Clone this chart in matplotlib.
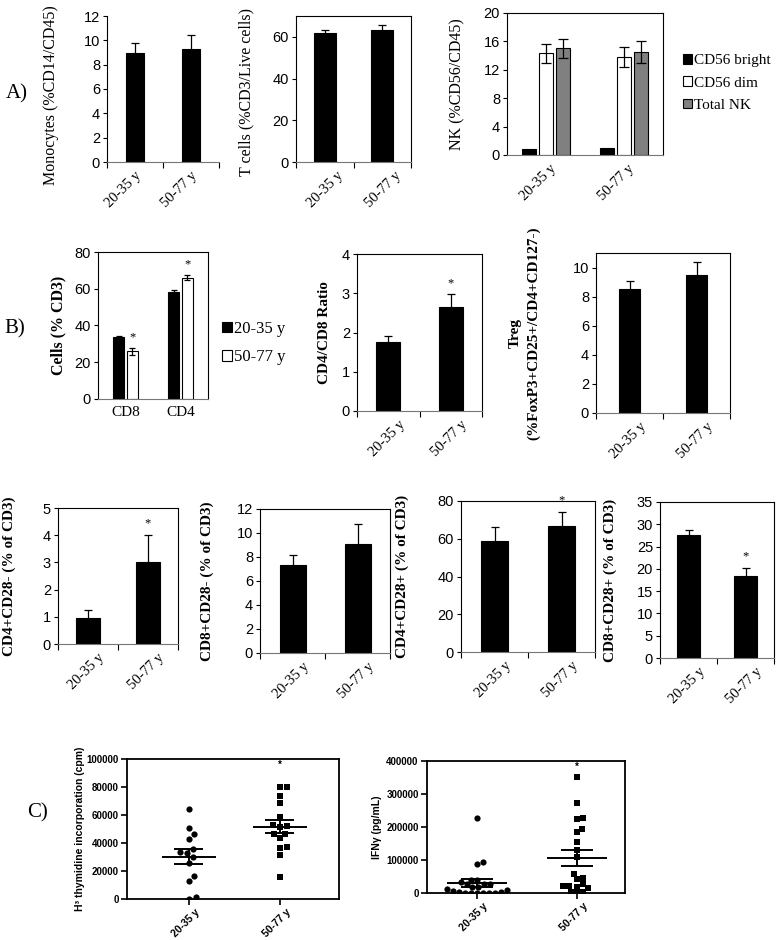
import matplotlib
matplotlib.use('Agg')
import matplotlib.pyplot as plt
import numpy as np
from matplotlib.transforms import ScaledTranslation, blended_transform_factory

plt.rcParams['font.family'] = ['Liberation Sans', 'DejaVu Sans']
SERIF = ['Liberation Serif', 'DejaVu Serif']

# ---------------- data ----------------
groups = ['20-35 y', '50-77 y']

mono_mean = [9.0, 9.3]
mono_err = [0.8, 1.1]
tcell_mean = [62.0, 63.5]
tcell_err = [1.4, 2.0]

nk_series = ['CD56 bright', 'CD56 dim', 'Total NK']
nk_bright = [0.8, 1.0]
nk_dim = [14.3, 13.8]
nk_dim_err = [1.3, 1.4]
nk_total = [15.0, 14.5]
nk_total_err = [1.3, 1.6]

b_subsets = ['CD8', 'CD4']
cells_young = [33.5, 58.0]
cells_young_err = [1.0, 1.5]
cells_old = [26.0, 66.0]
cells_old_err = [1.8, 1.5]
cells_old_sig = [True, True]

ratio_mean = [1.77, 2.65]
ratio_err = [0.13, 0.32]
ratio_sig = [False, True]

treg_mean = [8.5, 9.5]
treg_err = [0.6, 0.9]

cd4_28neg = [0.97, 3.0]
cd4_28neg_err = [0.28, 1.0]
cd4_28neg_sig = [False, True]
cd8_28neg = [7.3, 9.1]
cd8_28neg_err = [0.9, 1.65]
cd4_28pos = [59.0, 66.5]
cd4_28pos_err = [7.0, 7.5]
cd4_28pos_sig = [False, True]
cd8_28pos = [27.5, 18.4]
cd8_28pos_err = [1.3, 1.8]
cd8_28pos_sig = [False, True]

prolif_young = [64000, 50700, 46600, 43000, 35900, 33600, 33100, 29800,
                25500, 16400, 13100, 200, 1200]
prolif_old = [80200, 80200, 73600, 68300, 58300, 52100, 51200, 52600,
              46400, 46400, 43300, 36400, 36900, 31400, 15900]
ifng_young = [226000, 95000, 89000, 40000, 38000, 33000, 28000, 26000,
              26000, 18000, 18000, 13000, 8000, 6000, 3000, 2000, 1500,
              1000, 500, 0, 0, 0]
ifng_old = [351500, 273700, 223200, 228300, 195000, 184800, 154500,
            131300, 109100, 58600, 43400, 45500, 20200, 18200, 26300,
            15200, 20200, 3000, 0, 3000]

# ---------------- figure ----------------
W, H = 778, 940
fig = plt.figure(figsize=(W / 100, H / 100), dpi=100)
fig.patch.set_facecolor('white')


def box(l, t, r, b):
    return fig.add_axes([l / W, 1 - b / H, (r - l) / W, (b - t) / H])


def shift_xlabels(ax, dx, dy):
    off = ScaledTranslation(dx / 100, dy / 100, fig.dpi_scale_trans)
    for lab in ax.get_xticklabels():
        lab.set_transform(lab.get_transform() + off)


def excel_axes(ax, ymax, yticks, l, r, ylabel, label_x, bold=False,
               labelsize=11, rotate=True, cats=groups, full=True, label_y=0.5):
    ax.set_ylim(0, ymax)
    ax.set_yticks(yticks)
    ax.set_yticklabels([('%g' % v) for v in yticks])
    ax.set_xlim(-0.5, 1.5)
    ax.tick_params(axis='y', direction='out', length=3, width=0.8,
                   labelsize=10.5, pad=2)
    ax.set_xticks([0, 1])
    if rotate:
        ax.set_xticklabels(cats, rotation=45, ha='right', va='top',
                           rotation_mode='anchor', fontfamily=SERIF,
                           fontsize=10.5)
    else:
        ax.set_xticklabels(cats, fontfamily=SERIF, fontsize=11)
    ax.tick_params(axis='x', which='major', length=0, pad=5)
    ax.set_xticks([-0.5, 0.5, 1.5], minor=True)
    ax.tick_params(axis='x', which='minor', direction='out', length=4,
                   width=0.8)
    for s in ax.spines.values():
        s.set_linewidth(0.8)
        s.set_color('black')
    ax.spines['bottom'].set_color('#777777')
    if not full:
        ax.spines['top'].set_visible(False)
        ax.spines['right'].set_visible(False)
    ax.set_ylabel(ylabel, fontfamily=SERIF, fontsize=labelsize,
                  fontweight='bold' if bold else 'normal')
    ax.yaxis.label.set_va('center')
    ax.yaxis.set_label_coords((label_x - l) / (r - l), label_y)


def bars_with_err(ax, means, errs, width, sig=None, color='black'):
    x = np.arange(len(means))
    ax.bar(x, means, width=width, color=color, edgecolor='black',
           linewidth=0.8, zorder=2)
    ax.errorbar(x, means, yerr=errs, fmt='none', ecolor='black',
                elinewidth=0.9, capsize=3.2, capthick=0.9, zorder=3)
    if sig is not None:
        for xi, m, e, s in zip(x, means, errs, sig):
            if s:
                ax.annotate('*', xy=(xi, m + e), xytext=(0, 4),
                            textcoords='offset points', ha='center',
                            va='bottom', fontsize=9, fontfamily=SERIF)


# ---------------- Row A ----------------
l, t, r, b = 107, 16, 219, 162
ax = box(l, t, r, b)
bars_with_err(ax, mono_mean, mono_err, 0.31)
excel_axes(ax, 12, range(0, 13, 2), l, r, 'Monocytes (%CD14/CD45)', 51,
           labelsize=11.5, full=False, label_y=0.46)

l, t, r, b = 296, 16, 411, 162
ax = box(l, t, r, b)
bars_with_err(ax, tcell_mean, tcell_err, 0.38)
excel_axes(ax, 70, range(0, 61, 20), l, r, 'T cells (%CD3/Live cells)', 246,
           labelsize=11.5, label_y=0.48)
shift_xlabels(ax, 12, 0)

l, t, r, b = 507, 13, 663, 155
ax = box(l, t, r, b)
xg = np.arange(len(groups))
wk = 0.18
h1 = ax.bar(xg - 0.22, nk_bright, wk, color='black', edgecolor='black',
            linewidth=0.8, zorder=2)
h2 = ax.bar(xg, nk_dim, wk, color='white', edgecolor='black',
            linewidth=0.8, zorder=2)
h3 = ax.bar(xg + 0.22, nk_total, wk, color='#808080', edgecolor='black',
            linewidth=0.8, zorder=2)
ax.errorbar(xg, nk_dim, yerr=nk_dim_err, fmt='none', ecolor='black',
            elinewidth=0.9, capsize=3.5, capthick=0.9, zorder=3)
ax.errorbar(xg + 0.22, nk_total, yerr=nk_total_err, fmt='none',
            ecolor='black', elinewidth=0.9, capsize=3.5, capthick=0.9,
            zorder=3)
excel_axes(ax, 20, range(0, 21, 4), l, r, 'NK (%CD56/CD45)', 457,
           labelsize=11.5)
ax.set_xticks([], minor=True)
ax.tick_params(axis='x', which='major', length=0)
shift_xlabels(ax, 4, 0)
ax.legend([h1, h2, h3], nk_series, loc='center left',
          bbox_to_anchor=(683 / W, 1 - 83 / H), bbox_transform=fig.transFigure,
          frameon=False, prop={'family': SERIF, 'size': 11},
          handlelength=0.6, handleheight=0.6, handletextpad=0.15,
          labelspacing=0.6, borderpad=0, borderaxespad=0)

fig.text(17 / W, 1 - 94 / H, 'A)', fontfamily=SERIF, fontsize=15,
         ha='center', va='center')

# ---------------- Row B ----------------
l, t, r, b = 98, 252, 208, 399
ax = box(l, t, r, b)
xs = np.arange(len(b_subsets))
bw = 0.21
hy = ax.bar(xs - 0.125, cells_young, bw, color='black', edgecolor='black',
            linewidth=0.8, zorder=2)
ho = ax.bar(xs + 0.125, cells_old, bw, color='white', edgecolor='black',
            linewidth=0.8, zorder=2)
ax.errorbar(xs - 0.125, cells_young, yerr=cells_young_err, fmt='none',
            ecolor='black', elinewidth=0.9, capsize=2.5, capthick=0.9,
            zorder=3)
ax.errorbar(xs + 0.125, cells_old, yerr=cells_old_err, fmt='none',
            ecolor='black', elinewidth=0.9, capsize=2.5, capthick=0.9,
            zorder=3)
for xi, m, e, s in zip(xs + 0.125, cells_old, cells_old_err, cells_old_sig):
    if s:
        ax.annotate('*', xy=(xi, m + e), xytext=(0, 3),
                    textcoords='offset points', ha='center', va='bottom',
                    fontsize=9, fontfamily=SERIF)
excel_axes(ax, 80, range(0, 81, 20), l, r, 'Cells (% CD3)', 58, bold=True,
           labelsize=11.5, rotate=False, cats=b_subsets)
ax.set_xticks([], minor=True)
ax.legend([hy, ho], groups, loc='center left',
          bbox_to_anchor=(222 / W, 1 - 343 / H), bbox_transform=fig.transFigure,
          frameon=False, prop={'family': SERIF, 'size': 12},
          handlelength=0.6, handleheight=0.6, handletextpad=0.15,
          labelspacing=0.75, borderpad=0, borderaxespad=0)
fig.text(15 / W, 1 - 329 / H, 'B)', fontfamily=SERIF, fontsize=15,
         ha='center', va='center')

l, t, r, b = 357, 254, 482, 411
ax = box(l, t, r, b)
bars_with_err(ax, ratio_mean, ratio_err, 0.38, sig=ratio_sig)
excel_axes(ax, 4, range(0, 5), l, r, 'CD4/CD8 Ratio', 325, bold=True,
           labelsize=11)
shift_xlabels(ax, 10, 0)

l, t, r, b = 596, 253, 730, 413
ax = box(l, t, r, b)
bars_with_err(ax, treg_mean, treg_err, 0.31)
excel_axes(ax, 11, range(0, 11, 2), l, r,
           'Treg\n(%FoxP3+CD25+/CD4+CD127-)', 525, bold=True, labelsize=11)
ax.yaxis.label.set_multialignment('center')
ax.yaxis.label.set_linespacing(1.5)
shift_xlabels(ax, 10, 0)

# ---------------- Row 3 ----------------
row3 = [
    ((58, 508, 178, 644), cd4_28neg, cd4_28neg_err, cd4_28neg_sig, 5,
     range(0, 6), 'CD4+CD28- (% of CD3)', 9),
    ((260, 509, 390, 653), cd8_28neg, cd8_28neg_err, None, 12,
     range(0, 13, 2), 'CD8+CD28- (% of CD3)', 207),
    ((461, 501, 595, 652), cd4_28pos, cd4_28pos_err, cd4_28pos_sig, 80,
     range(0, 81, 20), 'CD4+CD28+ (% of CD3)', 402),
    ((660, 502, 774, 658), cd8_28pos, cd8_28pos_err, cd8_28pos_sig, 35,
     range(0, 36, 5), 'CD8+CD28+ (% of CD3)', 610),
]
for (l, t, r, b), m, e, sg, ymax, yt, lab, lx in row3:
    ax = box(l, t, r, b)
    bars_with_err(ax, m, e, 0.4, sig=sg)
    excel_axes(ax, ymax, yt, l, r, lab, lx, bold=True, labelsize=11)
    shift_xlabels(ax, 10, 0)


# ---------------- Row C ----------------
def swarm_offsets(ax, values, diam):
    tr = ax.transData
    vals = np.asarray(values, float)
    ys = tr.transform(np.column_stack([np.zeros(len(vals)), vals]))[:, 1]
    xscale = tr.transform([[1, 0]])[0, 0] - tr.transform([[0, 0]])[0, 0]
    order = np.argsort(vals, kind='stable')
    placed = []
    offs = np.zeros(len(vals))
    for i in order:
        y = ys[i]
        found = None
        k = 0
        while found is None:
            cands = [0.0] if k == 0 else [k * 0.5, -k * 0.5]
            for c in cands:
                if all((c - px) ** 2 + (y - py) ** 2 >= diam ** 2
                       for px, py in placed):
                    found = c
                    break
            k += 1
        placed.append((found, y))
        offs[i] = found / xscale
    return offs


def scatter_panel(ax, data_sets, markers, ymax, ystep, ylabel, label_x,
                  l, r, xlim, diam):
    ax.set_xlim(*xlim)
    ax.set_ylim(0, ymax)
    for i, (vals, mk) in enumerate(zip(data_sets, markers)):
        offs = swarm_offsets(ax, vals, diam)
        ax.scatter(i + offs, vals, marker=mk, s=20, color='black',
                   linewidths=0, zorder=3)
        v = np.asarray(vals, float)
        mean = v.mean()
        sem = v.std(ddof=1) / np.sqrt(len(v))
        ax.hlines(mean, i - 0.3, i + 0.3, color='black', lw=1.4, zorder=4)
        ax.hlines([mean - sem, mean + sem], i - 0.16, i + 0.16,
                  color='black', lw=1.4, zorder=4)
        ax.vlines(i, mean - sem, mean + sem, color='black', lw=1.4, zorder=4)
    trans = blended_transform_factory(ax.transData, ax.transAxes)
    ax.text(1, 0.955, '*', transform=trans, ha='center', va='center',
            fontsize=7, fontweight='bold')
    yt = np.arange(0, ymax + 1, ystep)
    ax.set_yticks(yt)
    ax.set_yticklabels([str(int(v)) for v in yt], fontweight='bold',
                       fontsize=7)
    ax.set_xticks([0, 1])
    ax.set_xticklabels(groups, rotation=45, ha='right', va='top',
                       rotation_mode='anchor', fontweight='bold',
                       fontsize=7.5)
    ax.tick_params(direction='out', length=4, width=1.2, pad=2)
    for s in ax.spines.values():
        s.set_linewidth(1.3)
    ax.set_ylabel(ylabel, fontweight='bold', fontsize=7.5)
    ax.yaxis.label.set_va('center')
    ax.yaxis.set_label_coords((label_x - l) / (r - l), 0.5)
    shift_xlabels(ax, 6, 0)


l, t, r, b = 127, 759, 339, 899
ax = box(l, t, r, b)
scatter_panel(ax, [prolif_young, prolif_old], ['o', 's'], 100000, 20000,
              'H³ thymidine incorporation (cpm)', 80, l, r, (-0.68, 1.65),
              7.0)
fig.text(38 / W, 1 - 813 / H, 'C)', fontfamily=SERIF, fontsize=15,
         ha='center', va='center')

l, t, r, b = 427, 761, 625, 893
ax = box(l, t, r, b)
scatter_panel(ax, [ifng_young, ifng_old], ['o', 's'], 400000, 100000,
              'IFNγ (pg/mL)', 377, l, r, (-0.5, 1.48), 6.0)

fig.savefig('out.png', dpi=100, facecolor='white')
